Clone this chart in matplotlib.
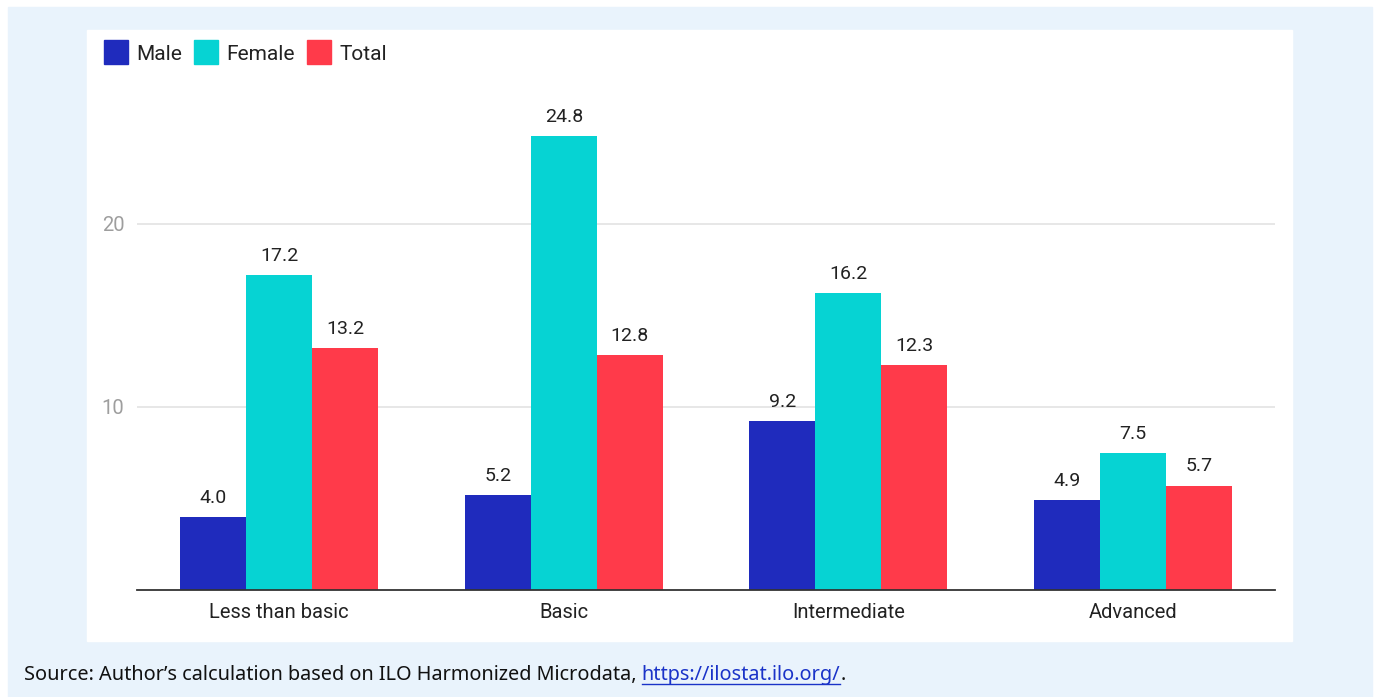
import numpy as np
import matplotlib.pyplot as plt
from matplotlib.patches import Rectangle

categories = ['Less than basic', 'Basic', 'Intermediate', 'Advanced']
male = [4.0, 5.2, 9.2, 4.9]
female = [17.2, 24.8, 16.2, 7.5]
total = [13.2, 12.8, 12.3, 5.7]
series_names = ['Male', 'Female', 'Total']
colors = ['#1f2bbd', '#06d3d3', '#ff3a4a']
source = 'Source: Author\u2019s calculation based on ILO Harmonized Microdata, '
link = 'https://ilostat.ilo.org/'

W, H = 1375, 697
fig = plt.figure(figsize=(W / 100, H / 100), dpi=100)
fig.patch.set_facecolor('white')

# light blue frame and white panel
fig.add_artist(Rectangle((8 / W, 0), (1372 - 8) / W, (H - 7) / H,
                         transform=fig.transFigure, color='#e9f3fc', zorder=0))
fig.add_artist(Rectangle((87 / W, 1 - 641 / H), (1292 - 87) / W, (641 - 30) / H,
                         transform=fig.transFigure, color='white', zorder=0))

ax = fig.add_axes([137 / W, 1 - 590 / H, (1275 - 137) / W, (590 - 77) / H])
ax.set_facecolor('none')

x = np.arange(len(categories))
w = 0.232
for i, (vals, c) in enumerate(zip([male, female, total], colors)):
    bars = ax.bar(x + (i - 1) * w, vals, w, color=c, zorder=3)
    for b, v in zip(bars, vals):
        ax.text(b.get_x() + b.get_width() / 2, v + 0.55, f'{v:.1f}',
                ha='center', va='bottom', fontsize=14, color='#222222',
                family='Roboto')

ax.set_xlim(-0.5, 3.5)
ax.set_ylim(0, 28)
ax.set_yticks([10, 20])
ax.yaxis.grid(True, color='#e3e3e3', linewidth=1.2, zorder=0)
ax.tick_params(axis='y', length=0, pad=9, labelsize=14.5, labelcolor='#9e9e9e')
ax.tick_params(axis='x', length=0, pad=9, labelsize=14.5, labelcolor='#222222')
ax.set_xticks(x)
ax.set_xticklabels(categories)
for lab in ax.get_xticklabels() + ax.get_yticklabels():
    lab.set_family('Roboto')
for s in ['top', 'right', 'left']:
    ax.spines[s].set_visible(False)
ax.spines['bottom'].set_color('#333333')
ax.spines['bottom'].set_linewidth(1.3)
ax.spines['bottom'].set_zorder(4)

# legend drawn by hand at top left
lx = [104, 194, 307]
for name, c, px in zip(series_names, colors, lx):
    fig.add_artist(Rectangle((px / W, 1 - 64 / H), 24 / W, 24 / H,
                             transform=fig.transFigure, color=c))
    fig.text((px + 32) / W, 1 - 54 / H, name, fontsize=15, family='Roboto',
             color='#222222', va='center', ha='left')

sy = 1 - 675 / H
t = fig.text(24 / W, sy, source, fontsize=14.3, family='Noto Sans',
             color='#111111', va='center', ha='left')
fig.canvas.draw()
bb = t.get_window_extent()
lt = fig.text(bb.x1 / W, sy, link, fontsize=14.3, family='Noto Sans',
              color='#1a33c8', va='center', ha='left')
fig.canvas.draw()
lb = lt.get_window_extent()
fig.add_artist(plt.Line2D([lb.x0 / W, lb.x1 / W], [(lb.y0 + 1) / H] * 2,
                          transform=fig.transFigure, color='#1a33c8', lw=1))
fig.text(lb.x1 / W, sy, '.', fontsize=14.3, family='Noto Sans',
         color='#111111', va='center', ha='left')

fig.savefig('out.png', dpi=100)
